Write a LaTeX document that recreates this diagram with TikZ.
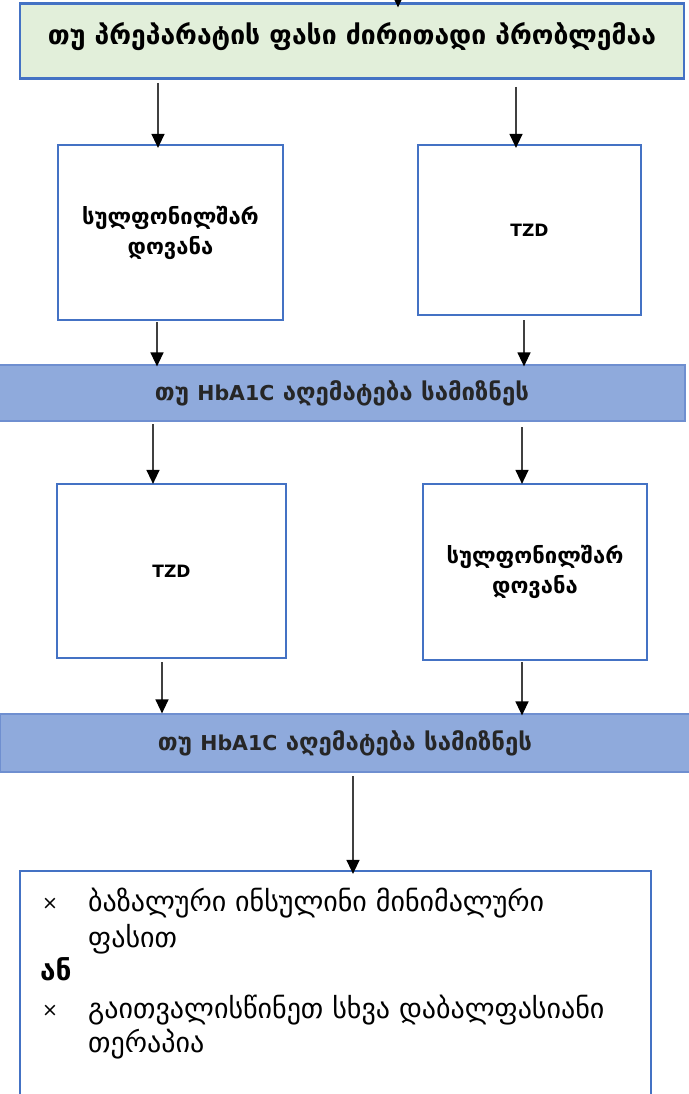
\documentclass[tikz,border=0pt]{standalone}
\usepackage{fontspec}
\setmainfont{DejaVu Sans}
\usetikzlibrary{arrows.meta}
\definecolor{frame}{HTML}{4472C4}
\definecolor{greenfill}{HTML}{E2EFDA}
\definecolor{bandfill}{HTML}{8FAADC}
\definecolor{bandline}{HTML}{6F8FD0}
\definecolor{ink}{HTML}{262626}
\definecolor{wire}{HTML}{404040}
% Latin run inside the larger Georgian lines
\newcommand{\latin}[1]{{\fontsize{20.5}{24}\selectfont #1}}
\begin{document}
\begin{tikzpicture}[x=1pt,y=-1pt,
  box/.style={draw=frame, line width=2.2pt, fill=white, inner sep=0pt, align=center,
    font=\bfseries\fontsize{22}{30}\selectfont},
  latinbox/.style={box, font=\bfseries\fontsize{17}{26}\selectfont},
  topbox/.style={box, fill=greenfill, font=\bfseries\fontsize{26.5}{30}\selectfont},
  band/.style={draw=bandline, line width=1.2pt, fill=bandfill, inner sep=0pt, text=ink,
    font=\bfseries\fontsize{24}{28}\selectfont},
  arr/.style={draw=wire, line width=1.3pt, -{Triangle[length=14pt,width=13pt,fill=black,color=black]}},
  item/.style={anchor=base west, inner sep=0pt, font=\fontsize{28}{32}\selectfont},
  bulletsign/.style={anchor=base west, inner sep=0pt, font=\fontsize{19}{24}\selectfont}]
\useasboundingbox (0,0) rectangle (688,1094);
% main question
\node[topbox, minimum width=664pt, minimum height=75pt, text depth=14pt] (top) at (352,41) {თუ პრეპარატის ფასი ძირითადი პრობლემაა};
\coordinate (in) at (398,-30);
\draw[arr] (in) -- ([yshift=-5pt]in |- top.north);
% first pair of options
\node[box, minimum width=225pt, minimum height=175pt] (l1) at (170.5,232.5) {სულფონილშარ\\დოვანა};
\node[latinbox, minimum width=223pt, minimum height=170pt] (r1) at (529.5,230) {TZD};
\coordinate (t1) at (158,83);
\coordinate (t2) at (516,87);
\draw[arr] (t1) -- ([yshift=-4pt]t1 |- l1.north);
\draw[arr] (t2) -- ([yshift=-4pt]t2 |- r1.north);
% first check
\node[band, minimum width=686pt, minimum height=56pt] (h1) at (342,393) {თუ \latin{HbA1C} აღემატება სამიზნეს};
\coordinate (u1) at (157,322);
\coordinate (u2) at (524,320);
\draw[arr] (u1) -- ([yshift=-2pt]u1 |- h1.north);
\draw[arr] (u2) -- ([yshift=-2pt]u2 |- h1.north);
% second pair of options
\node[latinbox, minimum width=229pt, minimum height=174pt] (l2) at (171.5,571) {TZD};
\node[box, minimum width=224pt, minimum height=176pt] (r2) at (535,572) {სულფონილშარ\\დოვანა};
\coordinate (v1) at (153,424);
\coordinate (v2) at (522,427);
\draw[arr] (v1) -- ([yshift=-1pt]v1 |- l2.north);
\draw[arr] (v2) -- ([yshift=-1pt]v2 |- r2.north);
% second check
\node[band, minimum width=690pt, minimum height=58pt] (h2) at (345,743) {თუ \latin{HbA1C} აღემატება სამიზნეს};
\coordinate (w1) at (162,662);
\coordinate (w2) at (522,662);
\draw[arr] (w1) -- (w1 |- h2.north);
\draw[arr] (w2) -- ([yshift=-2pt]w2 |- h2.north);
% final recommendation
\node[box, minimum width=631pt, minimum height=260pt] (fin) at (335.5,1001) {};
\coordinate (x1) at (353,776);
\draw[arr] (x1) -- ([yshift=-4pt]x1 |- fin.north);
\node[bulletsign] (m1) at (42,909) {×};
\node[item] (p1) at (88,911) {ბაზალური ინსულინი მინიმალური};
\node[item] (p1b) at (88,947) {ფასით};
\node[item, font=\bfseries\fontsize{28}{32}\selectfont] (or) at (40,980) {ან};
\node[bulletsign] (m2) at (42,1016) {×};
\node[item] (p2) at (88,1018) {გაითვალისწინეთ სხვა დაბალფასიანი};
\node[item] (p2b) at (88,1052) {თერაპია};
\end{tikzpicture}
\end{document}
